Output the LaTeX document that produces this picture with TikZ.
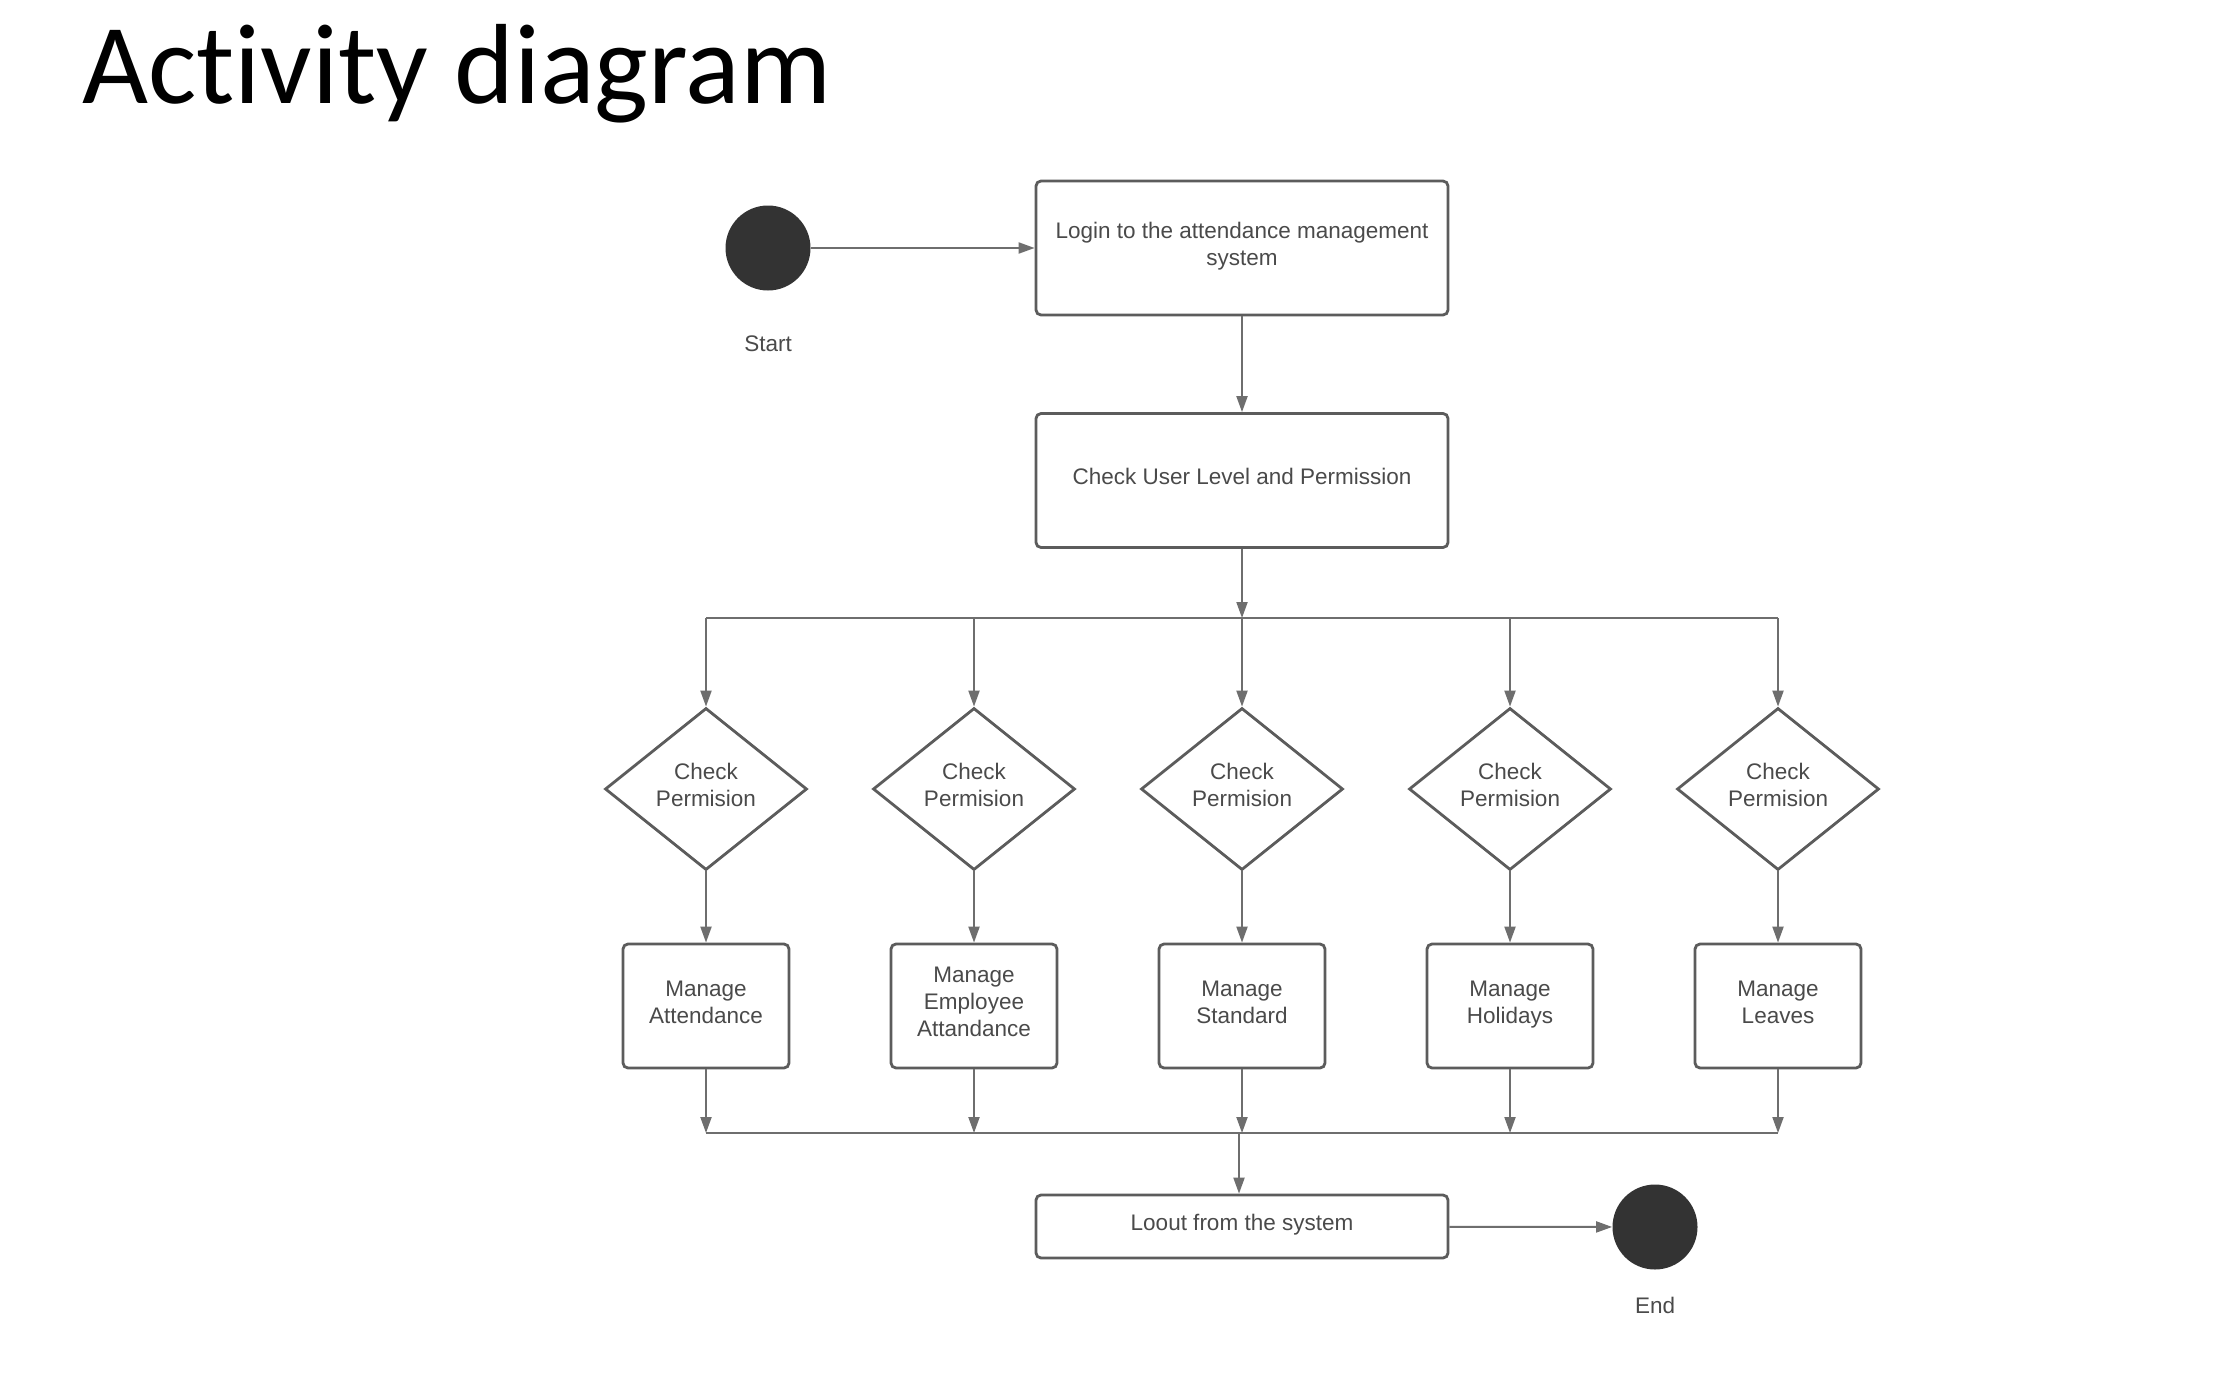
\documentclass[tikz,border=0pt]{standalone}
\usepackage{fontspec}
\setmainfont{Liberation Sans}
\newfontfamily\titlefont[Ligatures=NoCommon,RawFeature={-liga;-clig;-dlig}]{Carlito}
\usetikzlibrary{shapes.geometric,arrows.meta}
\definecolor{lc}{HTML}{6E6E6E}
\definecolor{bc}{HTML}{5C5C5C}
\definecolor{tc}{HTML}{4A4A4A}
\definecolor{dc}{HTML}{333333}
\newcommand\laststrut{\rule[-4pt]{0pt}{4pt}}
\begin{document}
\begin{tikzpicture}[x=0.5pt,y=-0.5pt,
  txt/.style={text=tc,font=\fontsize{11.25}{13.5}\selectfont},
  box/.style={txt,draw=bc,line width=1.4pt,rounded corners=2.5pt,fill=white,align=center,inner sep=0pt,execute at end node=\laststrut},
  bigbox/.style={box,minimum width=206pt,minimum height=67pt},
  smallbox/.style={box,minimum width=83pt,minimum height=62pt},
  decision/.style={txt,draw=bc,line width=1.4pt,diamond,fill=white,align=center,inner sep=0pt,minimum width=101pt,minimum height=81pt,execute at end node=\laststrut},
  dot/.style={circle,fill=dc,draw=none,minimum size=42.5pt,inner sep=0pt},
  ln/.style={draw=lc,line width=1pt},
  arr/.style={ln,-{Triangle[length=8pt,width=5.5pt]}}
]
\useasboundingbox (0,0) rectangle (2220,1376);
\fill[white] (0,0) rectangle (2220,1376);

\node[anchor=base west,inner sep=0pt,font=\titlefont\fontsize{57}{60}\selectfont] (title) at (82,103) {Act\kern0pt ivit\kern0pt y diagram};

\node[dot] (start) at (768,248) {};
\node[txt] (startlbl) at (768,344) {Start};

\node[bigbox] (login) at (1242,248) {Login to the attendance management\\system};
\node[bigbox] (check) at (1242,480.5) {Check User Level and Permission};

\coordinate (tb1) at (706,618);
\coordinate (tb2) at (974,618);
\coordinate (tb3) at (1242,618);
\coordinate (tb4) at (1510,618);
\coordinate (tb5) at (1778,618);

\node[decision] (d1) at (706,789) {Check\\Permision};
\node[decision] (d2) at (974,789) {Check\\Permision};
\node[decision] (d3) at (1242,789) {Check\\Permision};
\node[decision] (d4) at (1510,789) {Check\\Permision};
\node[decision] (d5) at (1778,789) {Check\\Permision};

\node[smallbox] (m1) at (706,1006) {Manage\\Attendance};
\node[smallbox] (m2) at (974,1006) {Manage\\Employee\\Attandance};
\node[smallbox] (m3) at (1242,1006) {Manage\\Standard};
\node[smallbox] (m4) at (1510,1006) {Manage\\Holidays};
\node[smallbox] (m5) at (1778,1006) {Manage\\Leaves};

\coordinate (bb1) at (706,1133);
\coordinate (bb2) at (974,1133);
\coordinate (bb3) at (1242,1133);
\coordinate (bb4) at (1510,1133);
\coordinate (bb5) at (1778,1133);
\coordinate (bbo) at (1239,1133);

\node[box,minimum width=206pt,minimum height=31.5pt] (logout) at (1242,1226.5) {Loout from the system};
\node[dot] (end) at (1655,1227) {};
\node[txt] (endlbl) at (1655,1305) {End};

% connectors
\draw[arr] (start) -- (login);
\draw[arr] (login) -- (check);
\draw[arr] (check) -- (tb3);
\draw[ln] (tb1) -- (tb5);
\foreach \i in {1,...,5} {
  \draw[arr] (tb\i) -- (d\i);
  \draw[arr] (d\i) -- (m\i);
  \draw[arr] (m\i) -- (bb\i);
}
\draw[ln] (bb1) -- (bb5);
\draw[arr] (bbo) -- (bbo |- logout.north);
\draw[arr] (logout) -- (end);
\end{tikzpicture}
\end{document}
